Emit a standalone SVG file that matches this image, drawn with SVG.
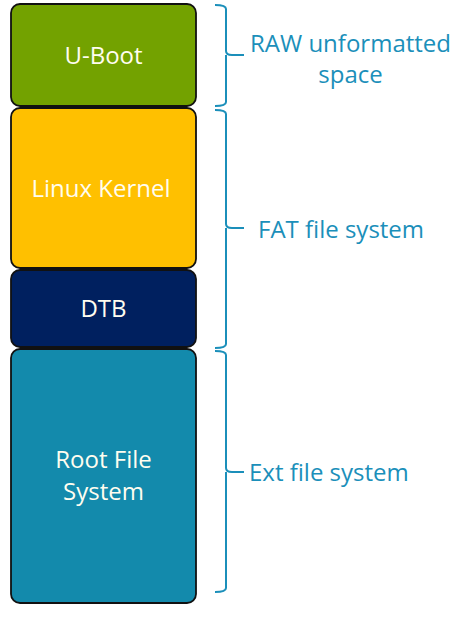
<svg xmlns="http://www.w3.org/2000/svg" width="465" height="621" viewBox="0 0 465 621">
<style>
.box{stroke:#111;stroke-width:1.8}
.bt{font-family:"Open Sans","Liberation Sans",sans-serif;font-size:24px;fill:#fffdf0;text-anchor:middle}
.lbl{font-family:"Open Sans","Liberation Sans",sans-serif;font-size:24px;fill:#1b8fba}
.brace{fill:none;stroke:#1b8fba;stroke-width:2}
</style>
<rect width="465" height="621" fill="#ffffff"/>
<g id="uboot">
<rect class="box" x="11" y="4" width="185" height="102" rx="9" fill="#73a200"/>
<text class="bt" x="103.5" y="64">U-Boot</text>
</g>
<g id="kernel">
<rect class="box" x="11" y="108" width="185" height="160" rx="9" fill="#ffc000"/>
<text class="bt" x="101" y="197">Linux Kernel</text>
</g>
<g id="dtb">
<rect class="box" x="11" y="270" width="185" height="77" rx="9" fill="#00205f"/>
<text class="bt" x="103.5" y="317">DTB</text>
</g>
<g id="rootfs">
<rect class="box" x="11" y="349" width="185" height="254" rx="9" fill="#138aac"/>
<text class="bt" x="103.5" y="468">Root File</text>
<text class="bt" x="103.5" y="500">System</text>
</g>
<g id="connectors">
<path class="brace" d="M215,5 Q226,5 226,9 L226,51 Q226,55 232,55 L244,55 M226,55 Q226,59 226,62 L226,102 Q226,106 215,106"/>
<path class="brace" d="M215,110 Q226,110 226,114 L226,224 Q226,228 232,228 L244,228 M226,228 L226,344 Q226,348 215,348"/>
<path class="brace" d="M215,351 Q226,351 226,355 L226,468 Q226,472 232,472 L244,472 M226,472 L226,588 Q226,592 215,592"/>
</g>
<g id="labels">
<text class="lbl" x="350.5" y="52" text-anchor="middle">RAW unformatted</text>
<text class="lbl" x="350.5" y="83" text-anchor="middle">space</text>
<text class="lbl" x="258" y="238">FAT file system</text>
<text class="lbl" x="249" y="481">Ext file system</text>
</g>
</svg>
